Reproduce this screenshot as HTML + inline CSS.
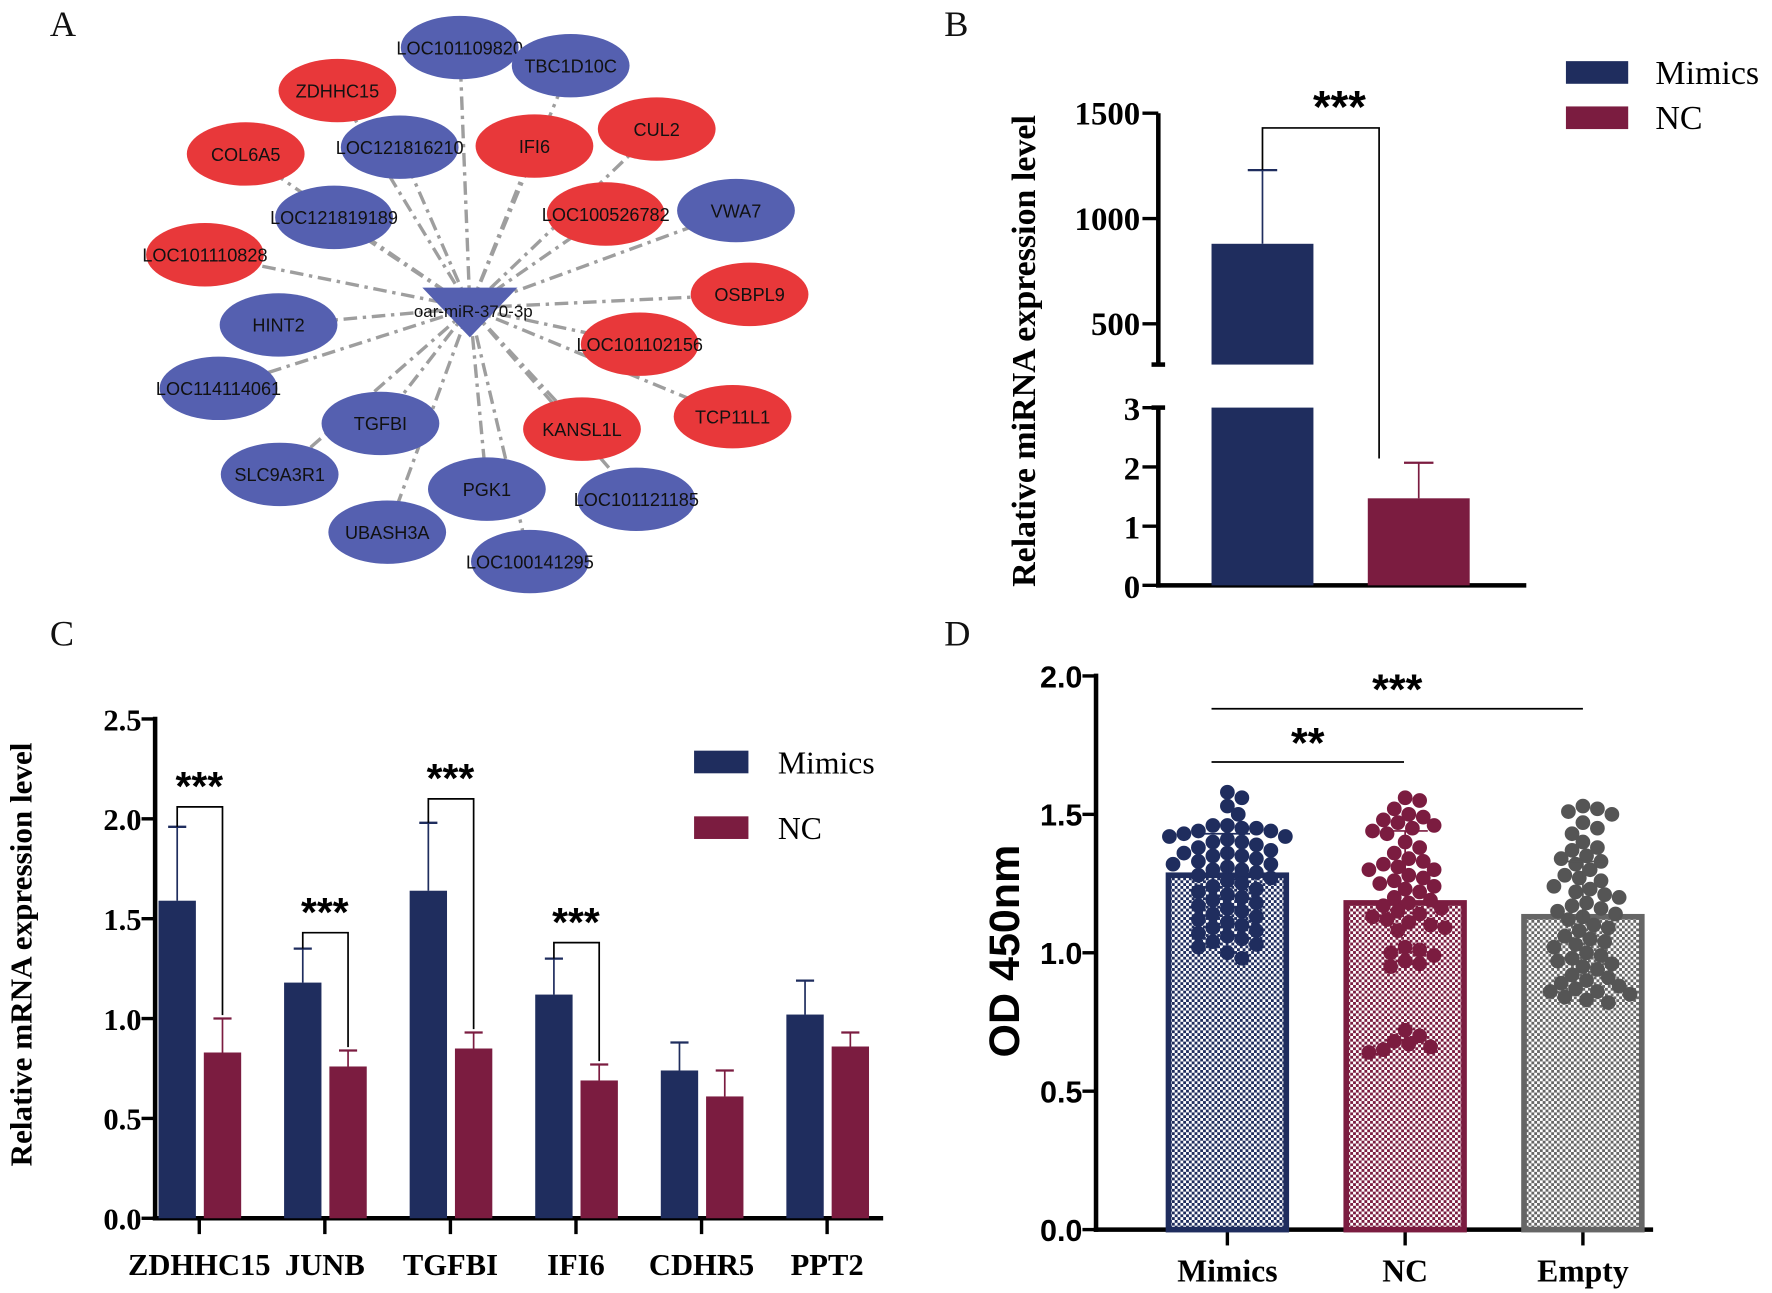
<!DOCTYPE html>
<html><head><meta charset="utf-8"><style>
html,body{margin:0;padding:0;background:#fff;}
svg{display:block;}
</style></head><body>
<svg id="fig" width="1772" height="1293" viewBox="0 0 1565 1142" preserveAspectRatio="none" xmlns="http://www.w3.org/2000/svg">
<defs>
<pattern id="pBlue" width="5" height="5" patternUnits="userSpaceOnUse"><rect width="5" height="5" fill="#fff"/><rect width="2.5" height="2.5" fill="#1f2d5e"/><rect x="2.5" y="2.5" width="2.5" height="2.5" fill="#1f2d5e"/></pattern>
<pattern id="pRed" width="5" height="5" patternUnits="userSpaceOnUse"><rect width="5" height="5" fill="#fff"/><rect width="2.5" height="2.5" fill="#7b1c40"/><rect x="2.5" y="2.5" width="2.5" height="2.5" fill="#7b1c40"/></pattern>
<pattern id="pGray" width="5" height="5" patternUnits="userSpaceOnUse"><rect width="5" height="5" fill="#fff"/><rect width="2.5" height="2.5" fill="#666"/><rect x="2.5" y="2.5" width="2.5" height="2.5" fill="#666"/></pattern>
</defs>
<g font-family="Liberation Serif, serif" font-size="32" fill="#111">
<text x="44" y="32">A</text>
<text x="834" y="32">B</text>
<text x="44" y="570">C</text>
<text x="834" y="570">D</text>
</g>
<g id="net"></g>
<g id="pb"></g>
<g id="pc"></g>
<g id="pd"></g>
</svg>
<script>
// ---------- Panel A data ----------
const nodeLabels = ["LOC101109820","TBC1D10C","ZDHHC15","COL6A5","LOC121816210","IFI6","CUL2","LOC121819189","LOC100526782","VWA7","LOC101110828","OSBPL9","HINT2","LOC101102156","LOC114114061","TCP11L1","TGFBI","KANSL1L","SLC9A3R1","PGK1","LOC101121185","UBASH3A","LOC100141295"];
const nodeTypes = ["b","b","r","r","b","r","r","b","r","b","r","r","b","r","b","r","b","r","b","b","b","b","b"];
const nodeX = [406,504,298,217,353,472,580,295,535,650,181,662,246,565,193,647,336,514,247,430,562,342,468];
const nodeY = [42,58,80,136,130,129,114,192,189,186,225,260,287,304,343,368,374,379,419,432,441,470,496];
// ---------- Panel B data ----------
const bGroups = ["Mimics","NC"];
const bValues = [880,1.47];
const bErrTop = [1230,2.07];
// ---------- Panel C data ----------
const cGenes = ["ZDHHC15","JUNB","TGFBI","IFI6","CDHR5","PPT2"];
const cMimics = [1.59,1.18,1.64,1.12,0.74,1.02];
const cMimicsErr = [1.96,1.35,1.98,1.30,0.88,1.19];
const cNC = [0.83,0.76,0.85,0.69,0.61,0.86];
const cNCErr = [1.00,0.84,0.93,0.77,0.74,0.93];
const cBracketY = [2.06,1.43,2.10,1.38,null,null];
const cTicks = [0,0.5,1.0,1.5,2.0,2.5];
// ---------- Panel D data ----------
const dGroups = ["Mimics","NC","Empty"];
const dMeans = [1.28,1.18,1.13];
const dSD = [0.15,0.26,0.2];
const dMimicsPts = [1.58,1.56,1.53,1.50,1.46,1.46,1.45,1.45,1.44,1.44,1.43,1.42,1.42,1.41,1.40,1.40,1.39,1.38,1.37,1.36,1.36,1.35,1.35,1.34,1.33,1.32,1.32,1.31,1.30,1.30,1.29,1.28,1.27,1.26,1.25,1.24,1.23,1.22,1.21,1.20,1.19,1.18,1.17,1.16,1.15,1.14,1.13,1.12,1.11,1.10,1.09,1.08,1.07,1.06,1.05,1.04,1.03,1.02,1.00,0.98];
const dNCPts = [1.56,1.55,1.52,1.50,1.49,1.48,1.47,1.46,1.45,1.44,1.43,1.40,1.38,1.36,1.34,1.33,1.32,1.31,1.30,1.30,1.28,1.27,1.26,1.25,1.24,1.23,1.22,1.20,1.19,1.18,1.17,1.16,1.15,1.14,1.13,1.12,1.11,1.10,1.09,1.08,1.02,1.01,1.00,0.99,0.97,0.96,0.95,0.72,0.70,0.68,0.67,0.66,0.65,0.64];
const dEmptyPts = [1.53,1.52,1.51,1.50,1.47,1.45,1.43,1.40,1.38,1.37,1.35,1.34,1.33,1.32,1.30,1.28,1.27,1.26,1.24,1.23,1.22,1.21,1.20,1.18,1.17,1.16,1.15,1.14,1.13,1.12,1.10,1.09,1.08,1.06,1.05,1.04,1.03,1.02,1.00,0.99,0.98,0.97,0.96,0.95,0.94,0.92,0.91,0.90,0.89,0.88,0.87,0.86,0.86,0.85,0.84,0.83,0.82];
const dTicks = [0,0.5,1.0,1.5,2.0];

const NS="http://www.w3.org/2000/svg";
function mk(parent,tag,attrs,text){const e=document.createElementNS(NS,tag);for(const k in attrs)e.setAttribute(k,attrs[k]);if(text!==undefined)e.textContent=text;parent.appendChild(e);return e;}

// ---------- Panel A ----------
(function(){
 const g=document.getElementById('net');
 const cx=415, cy=272;
 nodeX.forEach((x,i)=>{const l=mk(g,'line',{x1:cx,y1:cy,x2:x,y2:nodeY[i],stroke:'#9e9e9e','stroke-width':3,'stroke-dasharray':'12,5,3,5'});
  
  });
 nodeX.forEach((x,i)=>{
  const e=mk(g,'ellipse',{cx:x,cy:nodeY[i],rx:52,ry:28,fill:nodeTypes[i]==='r'?'#e8383a':'#5560b0'});
  
  
  const t=mk(g,'text',{x:x,y:nodeY[i]+6,'text-anchor':'middle','font-family':'Liberation Sans, sans-serif','font-size':16,fill:'#111'},nodeLabels[i]);
  
  
 });
 const tri=mk(g,'polygon',{points:(cx-42)+','+(cy-18)+' '+(cx+42)+','+(cy-18)+' '+cx+','+(cy+26),fill:'#5560b0'});
 
 
 const t=mk(g,'text',{x:cx+3,y:cy+8,'text-anchor':'middle','font-family':'Liberation Sans, sans-serif','font-size':15,fill:'#111'},'oar-miR-370-3p');
 
 
})();

// ---------- Panel B ----------
(function(){
 const g=document.getElementById('pb');
 const ax=1023;
 const yU=v=>193-(v-1000)*93/500;
 const yL=v=>517-v*52.3;
 const yAny=v=>v>3?yU(v):yL(v);
 const ff='Liberation Serif, serif';
 mk(g,'line',{x1:ax,y1:100,x2:ax,y2:322,stroke:'#000','stroke-width':4});
 mk(g,'line',{x1:ax,y1:360,x2:ax,y2:519,stroke:'#000','stroke-width':4});
 mk(g,'line',{x1:ax-2,y1:517,x2:1348,y2:517,stroke:'#000','stroke-width':4});
 mk(g,'line',{x1:ax-6,y1:322,x2:ax+6,y2:322,stroke:'#000','stroke-width':4});
 mk(g,'line',{x1:ax-6,y1:360,x2:ax+6,y2:360,stroke:'#000','stroke-width':4});
 [500,1000,1500].forEach(v=>{mk(g,'line',{x1:ax-14,y1:yU(v),x2:ax,y2:yU(v),stroke:'#000','stroke-width':3});
  const t=mk(g,'text',{x:ax-16,y:yU(v)+10,'text-anchor':'end','font-family':ff,'font-weight':'bold','font-size':29},String(v));
  });
 [0,1,2,3].forEach(v=>{mk(g,'line',{x1:ax-14,y1:yL(v),x2:ax,y2:yL(v),stroke:'#000','stroke-width':3});
  const t=mk(g,'text',{x:ax-16,y:yL(v)+11,'text-anchor':'end','font-family':ff,'font-weight':'bold','font-size':29},String(v));
  });
 const yt=mk(g,'text',{x:0,y:0,transform:'translate(914,310) rotate(-90)','text-anchor':'middle','font-family':ff,'font-weight':'bold','font-size':30},'Relative miRNA expression level');
 
 const cols=['#1f2d5e','#7b1c40'];
 const xs=[1070,1208];
 bGroups.forEach((gname,i)=>{
  const x=xs[i], w=90, v=bValues[i];
  if(v>3){
   const r1=mk(g,'rect',{x:x,y:yU(v),width:w,height:322-yU(v),fill:cols[i]});
   
   const r2=mk(g,'rect',{x:x,y:360,width:w,height:157,fill:cols[i]});
   
  } else {
   const r=mk(g,'rect',{x:x,y:yL(v),width:w,height:517-yL(v),fill:cols[i]});
   
  }
  const cxm=x+w/2, et=yAny(bErrTop[i]);
  mk(g,'line',{x1:cxm,y1:yAny(v),x2:cxm,y2:et,stroke:cols[i],'stroke-width':1.5});
  mk(g,'line',{x1:cxm-13,y1:et,x2:cxm+13,y2:et,stroke:cols[i],'stroke-width':2});
 });
 mk(g,'polyline',{points:'1115,150 1115,113 1218,113 1218,405',fill:'none',stroke:'#000','stroke-width':1.5});
 const s=mk(g,'text',{x:1183,y:108,'text-anchor':'middle','font-family':'Liberation Sans, sans-serif','font-weight':'bold','font-size':40},'***');
 
 [['Mimics',64,cols[0]],['NC',104,cols[1]]].forEach(([n,y,c])=>{
  const r=mk(g,'rect',{x:1383,y:y-10,width:55,height:20,fill:c});
  const t=mk(g,'text',{x:1462,y:y+10,'font-family':ff,'font-size':30},n);
 });
})();

// ---------- Panel C ----------
(function(){
 const g=document.getElementById('pc');
 const ax=137, y0=1076, y=v=>y0-v*176.4;
 const ff='Liberation Serif, serif';
 const tickX=i=>176+i*110.9;
 mk(g,'line',{x1:ax,y1:633,x2:ax,y2:y0+2,stroke:'#000','stroke-width':4});
 mk(g,'line',{x1:ax-2,y1:y0,x2:780,y2:y0,stroke:'#000','stroke-width':4});
 cTicks.forEach(v=>{mk(g,'line',{x1:ax-12,y1:y(v),x2:ax,y2:y(v),stroke:'#000','stroke-width':3});
  const t=mk(g,'text',{x:ax-12,y:y(v)+10,'text-anchor':'end','font-family':ff,'font-weight':'bold','font-size':27},v.toFixed(1));
  });
 const yt=mk(g,'text',{x:0,y:0,transform:'translate(28,843) rotate(-90)','text-anchor':'middle','font-family':ff,'font-weight':'bold','font-size':27.5},'Relative mRNA expression level');
 
 cGenes.forEach((gn,i)=>{
  const tx=tickX(i);
  mk(g,'line',{x1:tx,y1:y0,x2:tx,y2:y0+14,stroke:'#000','stroke-width':3});
  const t=mk(g,'text',{x:tx,y:y0+50,'text-anchor':'middle','font-family':ff,'font-weight':'bold','font-size':27},gn);
  
  const bm=mk(g,'rect',{x:tx-36,y:y(cMimics[i]),width:33,height:y0-y(cMimics[i]),fill:'#1f2d5e'});
  
  const bn=mk(g,'rect',{x:tx+4,y:y(cNC[i]),width:33,height:y0-y(cNC[i]),fill:'#7b1c40'});
  
  [[tx-19.5,cMimics[i],cMimicsErr[i],'#1f2d5e'],[tx+20.5,cNC[i],cNCErr[i],'#7b1c40']].forEach(([x,v,e,c])=>{
   mk(g,'line',{x1:x,y1:y(v),x2:x,y2:y(e),stroke:c,'stroke-width':1.5});
   mk(g,'line',{x1:x-8,y1:y(e),x2:x+8,y2:y(e),stroke:c,'stroke-width':2});
  });
  if(cBracketY[i]!==null){
   const by=y(cBracketY[i]);
   mk(g,'polyline',{points:(tx-19.5)+','+y(cMimicsErr[i])+' '+(tx-19.5)+','+by+' '+(tx+20.5)+','+by+' '+(tx+20.5)+','+(y(cNCErr[i])-3),fill:'none',stroke:'#000','stroke-width':1.5});
   const s=mk(g,'text',{x:tx,y:by-6,'text-anchor':'middle','font-family':'Liberation Sans, sans-serif','font-weight':'bold','font-size':36},'***');
   
  }
 });
 [['Mimics',673,'#1f2d5e'],['NC',731,'#7b1c40']].forEach(([n,yy,c])=>{
  const r=mk(g,'rect',{x:613,y:yy-10,width:48,height:20,fill:c});
  const t=mk(g,'text',{x:687,y:yy+10,'font-family':ff,'font-size':28},n);
 });
})();

// ---------- Panel D ----------
(function(){
 const g=document.getElementById('pd');
 const ax=968, y0=1086, y=v=>y0-v*244.5;
 const ff='Liberation Serif, serif';
 const tickX=i=>1084+i*157;
 const fills=['url(#pBlue)','url(#pRed)','url(#pGray)'];
 const cols=['#1f2d5e','#7b1c40','#555'];
 const strokes=['#1f2d5e','#7b1c40','#666'];
 const pts=[dMimicsPts,dNCPts,dEmptyPts];
 mk(g,'line',{x1:ax,y1:595,x2:ax,y2:y0+2,stroke:'#000','stroke-width':4});
 mk(g,'line',{x1:ax-2,y1:y0,x2:1460,y2:y0,stroke:'#000','stroke-width':4});
 dTicks.forEach(v=>{mk(g,'line',{x1:ax-12,y1:y(v),x2:ax,y2:y(v),stroke:'#000','stroke-width':3});
  const t=mk(g,'text',{x:ax-12,y:y(v)+10,'text-anchor':'end','font-family':'Liberation Sans, sans-serif','font-weight':'bold','font-size':27},v.toFixed(1));
  });
 const yt=mk(g,'text',{x:0,y:0,transform:'translate(900,840) rotate(-90)','text-anchor':'middle','font-family':'Liberation Sans, sans-serif','font-weight':'bold','font-size':38},'OD  450nm');
 
 dGroups.forEach((gn,i)=>{
  const tx=tickX(i);
  mk(g,'line',{x1:tx,y1:y0,x2:tx,y2:y0+14,stroke:'#000','stroke-width':3});
  const t=mk(g,'text',{x:tx,y:y0+46,'text-anchor':'middle','font-family':ff,'font-weight':'bold','font-size':28},gn);
  
  const b=mk(g,'rect',{x:tx-52,y:y(dMeans[i]),width:104,height:y0-y(dMeans[i]),fill:fills[i],stroke:strokes[i],'stroke-width':5});
  
  const placed=[], r=6.5;
  pts[i].forEach(v=>{
   const py=y(v); let best=0;
   for(let k=0;k<40;k++){const off=(k%2?1:-1)*Math.ceil(k/2)*3.2;
    if(placed.every(p=>(p[0]-off)**2+(p[1]-py)**2>=(2*r*0.9)**2)){best=off;break;}}
   placed.push([best,py]);
   const c=mk(g,'circle',{cx:tx+best,cy:py,r:r,fill:cols[i]});
   
   
  });
  const ey=y(dMeans[i]+dSD[i]);
  mk(g,'line',{x1:tx,y1:y(dMeans[i]),x2:tx,y2:ey,stroke:cols[i],'stroke-width':1.5});
  mk(g,'line',{x1:tx-20,y1:ey,x2:tx+20,y2:ey,stroke:cols[i],'stroke-width':1.5});
 });
 mk(g,'line',{x1:1070,y1:626,x2:1398,y2:626,stroke:'#000','stroke-width':1.5});
 mk(g,'line',{x1:1070,y1:673,x2:1240,y2:673,stroke:'#000','stroke-width':1.5});
 const s1=mk(g,'text',{x:1234,y:622,'text-anchor':'middle','font-family':'Liberation Sans, sans-serif','font-weight':'bold','font-size':38},'***');
 
 const s2=mk(g,'text',{x:1155,y:669,'text-anchor':'middle','font-family':'Liberation Sans, sans-serif','font-weight':'bold','font-size':38},'**');
 
})();
</script>
</body></html>
